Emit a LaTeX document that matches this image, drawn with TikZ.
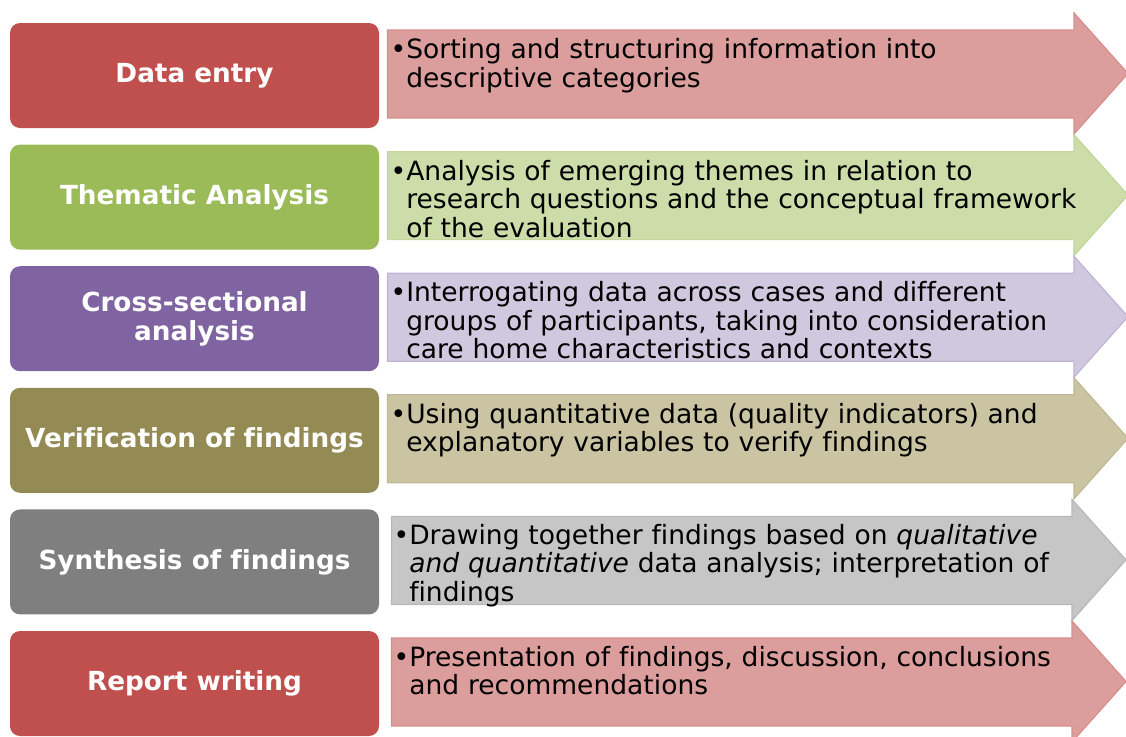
\documentclass[tikz,border=0pt]{standalone}
\usepackage{fontspec}
\setmainfont[Ligatures=NoCommon]{DejaVu Sans}

\definecolor{redstage}{HTML}{C0504D}
\definecolor{greenstage}{HTML}{9BBB59}
\definecolor{purplestage}{HTML}{8064A2}
\definecolor{olivestage}{HTML}{948A54}
\definecolor{greystage}{HTML}{7F7F7F}
\definecolor{redarrow}{HTML}{DC9E9D}
\definecolor{greenarrow}{HTML}{CCDDA9}
\definecolor{purplearrow}{HTML}{D0C8DE}
\definecolor{olivearrow}{HTML}{CAC4A2}
\definecolor{greyarrow}{HTML}{C6C6C6}

% bullet hung left of the first line
\newcommand{\bulletnote}[1]{\llap{•}#1}

\begin{document}
\begin{tikzpicture}[x=0.75pt,y=0.75pt,yscale=-1,xscale=1,
  stagebox/.style={rounded corners=7.5pt, minimum width=276.75pt, minimum height=78.75pt,
    inner sep=0pt, align=center, text=white, font=\fontsize{19.7pt}{21.8pt}\selectfont\bfseries},
  arrowshape/.style={line width=0.9pt, line join=miter},
  notetext/.style={anchor=base west, inner sep=0pt, text width=540pt, align=left,
    font=\fontsize{19.9pt}{21.4pt}\selectfont}]
\useasboundingbox (0,0) rectangle (1126,736);
\clip (0,0) rectangle (1126,736);

%Shape: Right Arrow [row 1]
\draw [arrowshape, fill=redarrow, draw=redarrow!80!redstage] (387.5,30) -- (1074,30) -- (1074,13) -- (1128,73.5) -- (1074,134) -- (1074,118) -- (387.5,118) -- cycle ;
%Shape: Rounded Rect [row 1]
\node [stagebox, fill=redstage] (entry) at (194.5,75.5) {Data entry};
% Text Node
\node [notetext] (entrynote) at (406,58.5) {\bulletnote{Sorting and structuring information into\\descriptive categories}};

%Shape: Right Arrow [row 2]
\draw [arrowshape, fill=greenarrow, draw=greenarrow!80!greenstage] (387.5,151.6) -- (1074,151.6) -- (1074,134.6) -- (1128,195.1) -- (1074,255.6) -- (1074,239.6) -- (387.5,239.6) -- cycle ;
%Shape: Rounded Rect [row 2]
\node [stagebox, fill=greenstage] (thematic) at (194.5,197.1) {Thematic Analysis};
% Text Node
\node [notetext] (thematicnote) at (406,180.1) {\bulletnote{Analysis of emerging themes in relation to\\research questions and the conceptual framework\\of the evaluation}};

%Shape: Right Arrow [row 3]
\draw [arrowshape, fill=purplearrow, draw=purplearrow!80!purplestage] (387.5,273.2) -- (1074,273.2) -- (1074,256.2) -- (1128,316.7) -- (1074,377.2) -- (1074,361.2) -- (387.5,361.2) -- cycle ;
%Shape: Rounded Rect [row 3]
\node [stagebox, fill=purplestage] (crosssec) at (194.5,318.7) {Cross-sectional\\analysis};
% Text Node
\node [notetext] (crosssecnote) at (406,301.7) {\bulletnote{Interrogating data across cases and different\\groups of participants, taking into consideration\\care home characteristics and contexts}};

%Shape: Right Arrow [row 4]
\draw [arrowshape, fill=olivearrow, draw=olivearrow!80!olivestage] (387.5,394.8) -- (1074,394.8) -- (1074,377.8) -- (1128,438.3) -- (1074,498.8) -- (1074,482.8) -- (387.5,482.8) -- cycle ;
%Shape: Rounded Rect [row 4]
\node [stagebox, fill=olivestage] (verify) at (194.5,440.3) {Verification of findings};
% Text Node
\node [notetext] (verifynote) at (406,423.3) {\bulletnote{Using quantitative data (quality indicators) and\\explanatory variables to verify findings}};

%Shape: Right Arrow [row 5]
\draw [arrowshape, fill=greyarrow, draw=greyarrow!80!greystage] (391.5,516.4) -- (1072,516.4) -- (1072,499.4) -- (1126,559.9) -- (1072,620.4) -- (1072,604.4) -- (391.5,604.4) -- cycle ;
%Shape: Rounded Rect [row 5]
\node [stagebox, fill=greystage] (synthesis) at (194.5,561.9) {Synthesis of findings};
% Text Node
\node [notetext] (synthesisnote) at (409,544.4) {\bulletnote{Drawing together findings based on \emph{qualitative}\\\emph{and quantitative} data analysis; interpretation of\\findings}};

%Shape: Right Arrow [row 6]
\draw [arrowshape, fill=redarrow, draw=redarrow!80!redstage] (391.5,638) -- (1072,638) -- (1072,621) -- (1126,681.5) -- (1072,742) -- (1072,726) -- (391.5,726) -- cycle ;
%Shape: Rounded Rect [row 6]
\node [stagebox, fill=redstage] (report) at (194.5,683.5) {Report writing};
% Text Node
\node [notetext] (reportnote) at (409,666) {\bulletnote{Presentation of findings, discussion, conclusions\\and recommendations}};

\end{tikzpicture}
\end{document}
